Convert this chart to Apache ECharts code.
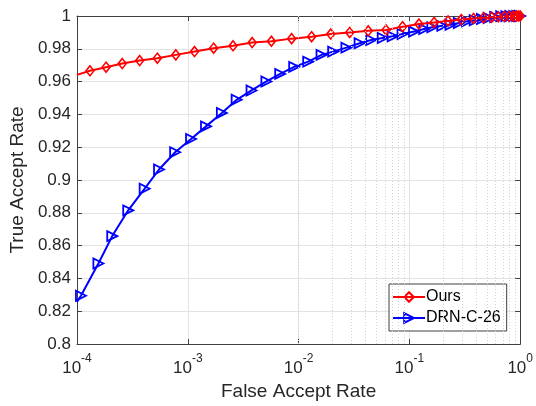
<!DOCTYPE html>
<html>
<head>
<meta charset="utf-8">
<script src="https://cdn.jsdelivr.net/npm/echarts@6/dist/echarts.min.js"></script>
<style>html,body{margin:0;padding:0;background:#fff}#c{width:536px;height:406px}</style>
</head>
<body>
<div id="c"></div>
<script>
// ---- data ----
var oursFAR = [1e-4, 1.31e-4, 1.83e-4, 2.56e-4, 3.68e-4, 5.31e-4, 7.80e-4, 1.15e-3, 1.71e-3, 2.56e-3,
  3.81e-3, 5.68e-3, 8.65e-3, 1.31e-2, 1.95e-2, 2.89e-2, 4.25e-2, 6.15e-2, 8.67e-2, 0.122,
  0.167, 0.223, 0.294, 0.379, 0.467, 0.553, 0.635, 0.719, 0.798, 0.865, 0.920, 0.960, 1.0];
var oursTAR = [0.9641, 0.9666, 0.9688, 0.9710, 0.9728, 0.9743, 0.9763, 0.9783, 0.9804, 0.9818,
  0.9838, 0.9846, 0.9862, 0.9874, 0.9890, 0.9900, 0.9910, 0.9915, 0.9935, 0.9951,
  0.9961, 0.9970, 0.9978, 0.9985, 0.9990, 0.9993, 0.9995, 0.9997, 0.9998, 0.9999, 1.0, 1.0, 1.0];
var drnFAR = [1e-4, 1.086e-4, 1.56e-4, 2.08e-4, 2.90e-4, 4.08e-4, 5.50e-4, 7.69e-4, 1.07e-3, 1.46e-3,
  2.03e-3, 2.76e-3, 3.76e-3, 5.12e-3, 6.82e-3, 9.12e-3, 1.22e-2, 1.61e-2, 2.05e-2, 2.70e-2,
  3.55e-2, 4.52e-2, 5.74e-2, 7.05e-2, 8.67e-2, 0.110, 0.136, 0.161, 0.198, 0.235,
  0.279, 0.331, 0.388, 0.451, 0.518, 0.594, 0.673, 0.750, 0.815, 0.883, 0.940, 0.980, 1.0];
var drnTAR = [0.8257, 0.8294, 0.8491, 0.8658, 0.8815, 0.8947, 0.9064, 0.9169, 0.9250, 0.9327,
  0.9409, 0.9489, 0.9546, 0.9601, 0.9647, 0.9690, 0.9722, 0.9763, 0.9783, 0.9807,
  0.9834, 0.9854, 0.9866, 0.9876, 0.9890, 0.9905, 0.9921, 0.9931, 0.9940, 0.9947,
  0.9957, 0.9968, 0.9974, 0.9982, 0.9988, 0.9994, 0.9998, 0.9999, 1.0, 1.0, 1.0, 1.0, 1.0];
var seriesNames = ['Ours', 'DRN-C-26'];
var xTitle = 'False Accept Rate';
var yTitle = 'True Accept Rate';
var xMin = 1e-4, xMax = 1;
var yMin = 0.8, yMax = 1, yStep = 0.02;
var minorMultipliers = [2, 3, 4, 5, 6, 7, 8, 9];

// ---- build ----
function pairs(xs, ys) {
  return xs.map(function (x, i) {
    var item = { value: [x, ys[i]] };
    if (i === 0) item.symbol = 'none';
    return item;
  });
}
var minorLines = [];
for (var e = -4; e < 0; e++) {
  minorMultipliers.forEach(function (m) { minorLines.push({ xAxis: m * Math.pow(10, e) }); });
}
var FONT = '"Liberation Sans", Arial, Helvetica, sans-serif';
var AX = '#404040';
var TXT = '#262626';

var chart = echarts.init(document.getElementById('c'), null, { renderer: 'canvas' });
chart.setOption({
  animation: false,
  backgroundColor: '#fff',
  textStyle: { fontFamily: FONT },
  grid: { left: 75, right: 14, top: 16, bottom: 61 },
  xAxis: [{
    type: 'log', logBase: 10, min: xMin, max: xMax, position: 'bottom',
    name: xTitle, nameLocation: 'middle', nameGap: 38,
    nameTextStyle: { fontSize: 19, color: TXT, fontFamily: FONT },
    axisLine: { show: true, lineStyle: { color: AX, width: 1 } },
    axisTick: { show: true, inside: true, length: 5, lineStyle: { color: AX } },
    axisLabel: {
      margin: 9, color: TXT,
      formatter: function (v) { return '{b|10}{s|' + Math.round(Math.log10(v)) + '}'; },
      rich: {
        b: { fontSize: 17, fontFamily: FONT, color: TXT, verticalAlign: 'bottom', lineHeight: 24 },
        s: { fontSize: 12, fontFamily: FONT, color: TXT, verticalAlign: 'top', lineHeight: 24 }
      }
    },
    splitLine: { show: true, lineStyle: { color: '#e3e3e3', width: 1 } },
    minorTick: { show: false }, minorSplitLine: { show: false }
  }, {
    type: 'log', logBase: 10, min: xMin, max: xMax, position: 'top',
    axisLine: { show: true, lineStyle: { color: AX, width: 1 } },
    axisTick: { show: true, inside: true, length: 5, lineStyle: { color: AX } },
    axisLabel: { show: false }, splitLine: { show: false }
  }],
  yAxis: [{
    type: 'value', min: yMin, max: yMax, interval: yStep, position: 'left',
    name: yTitle, nameLocation: 'middle', nameGap: 44,
    nameTextStyle: { fontSize: 19, color: TXT, fontFamily: FONT },
    axisLine: { show: true, lineStyle: { color: AX, width: 1 } },
    axisTick: { show: true, inside: true, length: 5, lineStyle: { color: AX } },
    axisLabel: {
      margin: 6, fontSize: 17, color: TXT, fontFamily: FONT,
      formatter: function (v) { return String(parseFloat(v.toFixed(2))); }
    },
    splitLine: { show: true, lineStyle: { color: '#e3e3e3', width: 1 } }
  }, {
    type: 'value', min: yMin, max: yMax, interval: yStep, position: 'right',
    axisLine: { show: true, lineStyle: { color: AX, width: 1 } },
    axisTick: { show: true, inside: true, length: 5, lineStyle: { color: AX } },
    axisLabel: { show: false }, splitLine: { show: false }
  }],
  legend: {
    orient: 'vertical', left: 389, top: 284,
    padding: [5, 6, 5, 3], itemGap: 5, itemWidth: 32, itemHeight: 12,
    backgroundColor: '#fff', borderColor: AX, borderWidth: 1, borderRadius: 0,
    textStyle: { fontSize: 16, color: '#000', fontFamily: FONT, padding: [0, 0, 0, -4] },
    data: seriesNames
  },
  series: [{
    type: 'line', name: '_minor', data: [], silent: true, z: 1,
    markLine: {
      silent: true, symbol: ['none', 'none'], label: { show: false }, animation: false,
      lineStyle: { color: '#d2d2d2', type: [1, 2], width: 1 },
      emphasis: { disabled: true },
      data: minorLines
    }
  }, {
    type: 'line', name: seriesNames[0], data: pairs(oursFAR, oursTAR), z: 4,
    symbol: 'diamond', symbolSize: [8, 10], showAllSymbol: true,
    lineStyle: { color: '#ff0000', width: 2 },
    itemStyle: { color: 'rgba(255,255,255,0)', borderColor: '#ff0000', borderWidth: 1.6 },
    emphasis: { disabled: true }
  }, {
    type: 'line', name: seriesNames[1], data: pairs(drnFAR, drnTAR), z: 3,
    symbol: 'triangle', symbolRotate: -90, symbolSize: 10, showAllSymbol: true,
    lineStyle: { color: '#0000ff', width: 2 },
    itemStyle: { color: 'rgba(255,255,255,0)', borderColor: '#0000ff', borderWidth: 1.8 },
    emphasis: { disabled: true }
  }]
});
</script>
</body>
</html>
